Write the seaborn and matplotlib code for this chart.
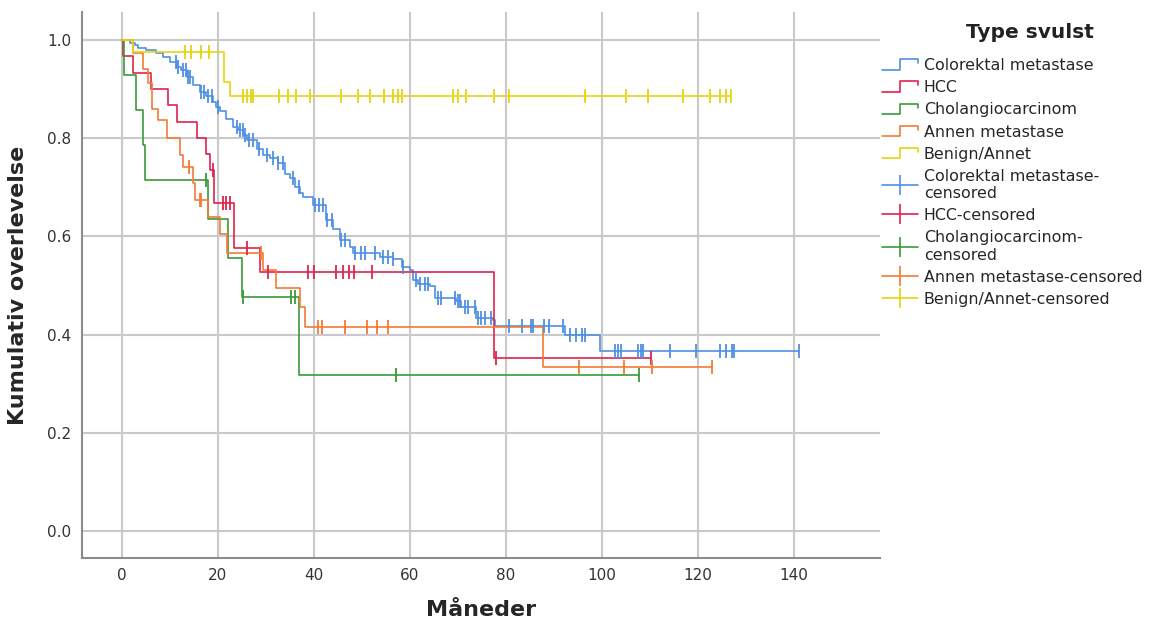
import numpy as np
import pandas as pd
import matplotlib
matplotlib.use("Agg")
import matplotlib.pyplot as plt
from matplotlib.lines import Line2D
from matplotlib.legend_handler import HandlerBase
import seaborn as sns

# ---------------- data ----------------
groups = ["Colorektal metastase", "HCC", "Cholangiocarcinom",
          "Annen metastase", "Benign/Annet"]

crc_times = [1.7, 2.7, 3.4, 5.1, 7.2, 8.6, 10.0, 11.4, 12.4, 13.5, 14.9, 16.25,
             17.6, 19.0, 19.6, 20.4, 21.8, 23.2, 24.2, 25.3, 26.0, 28.1, 29.4,
             30.8, 32.6, 34.0, 35.0, 36.0, 37.1, 37.8, 39.9, 42.6, 44.0, 45.4,
             47.5, 48.2, 53.75, 56.5, 58.3, 60.0, 60.7, 61.7, 64.2, 65.2, 69.7,
             70.7, 73.9, 77.4, 77.8, 92.3, 99.6]
crc_surv = [0.993, 0.990, 0.983, 0.980, 0.973, 0.966, 0.956, 0.945, 0.939, 0.925,
            0.908, 0.894, 0.885, 0.874, 0.864, 0.855, 0.840, 0.823, 0.817, 0.807,
            0.796, 0.777, 0.766, 0.759, 0.749, 0.728, 0.718, 0.701, 0.688, 0.681,
            0.664, 0.633, 0.616, 0.593, 0.579, 0.566, 0.559, 0.553, 0.538, 0.532,
            0.511, 0.504, 0.498, 0.474, 0.469, 0.457, 0.433, 0.430, 0.417, 0.399,
            0.367]
crc_censor = [11.2, 11.8, 12.8, 13.3, 13.8, 14.2, 16.6, 17.2, 17.9, 18.7, 20.1,
              24.0, 24.6, 25.2, 25.6, 26.5, 27.4, 28.5, 30.2, 31.5, 32.6, 33.5,
              35.7, 37.0, 40.3, 41.1, 41.9, 42.8, 43.7, 45.6, 46.5, 48.6, 49.9,
              50.6, 52.7, 54.4, 55.5, 56.5, 58.6, 61.4, 62.1, 63.1, 63.8, 65.9,
              66.6, 69.4, 70.1, 70.4, 71.5, 72.1, 73.5, 74.2, 74.9, 75.6, 77.0,
              80.7, 83.3, 85.3, 85.7, 87.9, 89.0, 91.9, 93.5, 94.6, 95.8, 96.5,
              102.7, 103.4, 104.1, 107.6, 108.1, 108.6, 114.3, 119.7, 124.6,
              126.0, 127.2, 127.5, 141.1]

hcc_times = [0.2, 2.4, 6.0, 9.6, 11.4, 15.7, 17.5, 18.3, 19.2, 23.3, 28.7, 77.6]
hcc_surv = [0.967, 0.933, 0.900, 0.867, 0.833, 0.800, 0.767, 0.735, 0.669,
            0.576, 0.528, 0.353]
hcc_censor = [18.9, 21.1, 21.8, 22.6, 26.1, 30.5, 38.8, 40.0, 44.7, 46.1, 47.4,
              48.3, 52.2, 77.9, 110.2]

cca_times = [0.4, 2.9, 4.4, 4.8, 18.0, 22.1, 25.1, 36.9]
cca_surv = [0.929, 0.857, 0.786, 0.714, 0.635, 0.556, 0.477, 0.318]
cca_censor = [17.5, 25.3, 35.3, 36.0, 57.1, 107.8]

ann_times = [2.4, 4.4, 5.5, 6.3, 7.6, 9.4, 12.1, 12.8, 14.9, 15.3, 18.0, 20.4,
             21.9, 29.4, 32.2, 37.1, 38.1, 87.8]
ann_surv = [0.973, 0.940, 0.912, 0.860, 0.837, 0.800, 0.766, 0.742, 0.709,
            0.674, 0.640, 0.604, 0.566, 0.532, 0.494, 0.457, 0.416, 0.333]
ann_censor = [14.1, 16.3, 16.6, 29.1, 40.8, 41.8, 46.6, 51.1, 53.1, 55.5, 95.3,
              104.6, 110.5, 123.0]

ben_times = [2.3, 21.3, 22.5]
ben_surv = [0.976, 0.915, 0.885]
ben_censor = [13.1, 14.5, 16.4, 18.1, 25.3, 26.0, 27.0, 27.4, 32.8, 34.6, 36.3,
              39.2, 45.6, 49.2, 51.7, 54.6, 56.5, 57.5, 58.3, 69.0, 70.0, 71.7,
              77.5, 80.6, 96.5, 105.0, 109.6, 116.9, 122.5, 124.6, 126.0, 126.9]

x_ticks = [0, 20, 40, 60, 80, 100, 120, 140]
y_ticks = [0.0, 0.2, 0.4, 0.6, 0.8, 1.0]

colors = ["#4f90e3", "#e0234d", "#3a9a38", "#f57a35", "#e6d40f"]

series = [(crc_times, crc_surv, crc_censor),
          (hcc_times, hcc_surv, hcc_censor),
          (cca_times, cca_surv, cca_censor),
          (ann_times, ann_surv, ann_censor),
          (ben_times, ben_surv, ben_censor)]

# ---------------- build tables ----------------
line_rows, cens_rows = [], []
for g, (t, s, c) in zip(groups, series):
    end = max(max(c), max(t))
    xs = [0.0] + list(t) + [end]
    ys = [1.0] + list(s) + [s[-1]]
    for xx, yy in zip(xs, ys):
        line_rows.append({"group": g, "t": xx, "S": yy})
    tt = np.array([0.0] + list(t))
    ss = np.array([1.0] + list(s))
    for ct in c:
        idx = np.searchsorted(tt, ct, side="right") - 1
        cens_rows.append({"group": g, "t": ct, "S": ss[idx]})
lines = pd.DataFrame(line_rows)
cens = pd.DataFrame(cens_rows)

# ---------------- plot ----------------
sns.set_style("white")
plt.rcParams["font.family"] = ["DejaVu Sans"]

fig = plt.figure(figsize=(11.73, 6.23), dpi=100)
ax = fig.add_axes([82 / 1173, 65 / 623, (880 - 82) / 1173, (558 - 12) / 623])

grid_c = "#c9c9c9"
for xv in x_ticks:
    ax.axvline(xv, color=grid_c, lw=1.5, zorder=0)
for yv in y_ticks:
    ax.axhline(yv, color=grid_c, lw=1.5, zorder=0)

for g, col in zip(groups, colors):
    sub = lines[lines.group == g]
    sns.lineplot(data=sub, x="t", y="S", sort=False, estimator=None,
                 drawstyle="steps-post", color=col, lw=1.2, ax=ax,
                 legend=False, zorder=3)
    csub = cens[cens.group == g]
    sns.scatterplot(data=csub, x="t", y="S", marker="|", s=90, color=col,
                    linewidth=1.3, ax=ax, legend=False, zorder=4)

ax.set_xlim(-8.3, 158)
ax.set_ylim(-0.055, 1.057)
ax.set_xticks(x_ticks)
ax.set_yticks(y_ticks)
ax.set_yticklabels([f"{v:.1f}" for v in y_ticks])
ax.tick_params(axis="both", labelsize=11, colors="#333333", length=4,
               color="#999999")
for sp in ["top", "right"]:
    ax.spines[sp].set_visible(False)
for sp in ["left", "bottom"]:
    ax.spines[sp].set_color("#8c8c8c")
    ax.spines[sp].set_linewidth(1.5)

ax.set_xlabel("Måneder", fontsize=16, fontweight="bold", labelpad=12)
ax.set_ylabel("Kumulativ overlevelse", fontsize=16, fontweight="bold",
              labelpad=14)


class HandlerStep(HandlerBase):
    def create_artists(self, legend, orig_handle, xdescent, ydescent, width,
                       height, fontsize, trans):
        x0, x1 = -xdescent, -xdescent + width
        xm = x0 + width * 0.5
        ylo = -ydescent + height * 0.1
        yhi = -ydescent + height * 0.9
        ln = Line2D([x0, xm, xm, x1, x1], [ylo, ylo, yhi, yhi, yhi - height * 0.3],
                    color=orig_handle.get_color(), lw=1.2, transform=trans)
        return [ln]


handles, labels = [], []
for g, col in zip(groups, colors):
    handles.append(Line2D([0], [0], color=col, lw=1.2))
    labels.append(g)
cens_labels = ["Colorektal metastase-\ncensored", "HCC-censored",
               "Cholangiocarcinom-\ncensored", "Annen metastase-censored",
               "Benign/Annet-censored"]
cens_handles = [Line2D([0], [0], color=col, lw=1.2, marker="|", markersize=14,
                       markeredgewidth=1.2) for col in colors]
hmap = {h: HandlerStep() for h in handles}
leg = fig.legend(handles + cens_handles, labels + cens_labels,
                 handler_map=hmap, loc="upper left",
                 bbox_to_anchor=(882 / 1173, 1 - 58 / 623), frameon=False,
                 fontsize=11.4, handlelength=2.3, handleheight=0.9,
                 handletextpad=0.35, labelspacing=0.45, borderaxespad=0,
                 borderpad=0)
fig.text(1030 / 1173, 1 - 33 / 623, "Type svulst", ha="center", va="center",
         fontsize=14.5, fontweight="bold", color="#222222")

fig.savefig("out.png", dpi=100)
